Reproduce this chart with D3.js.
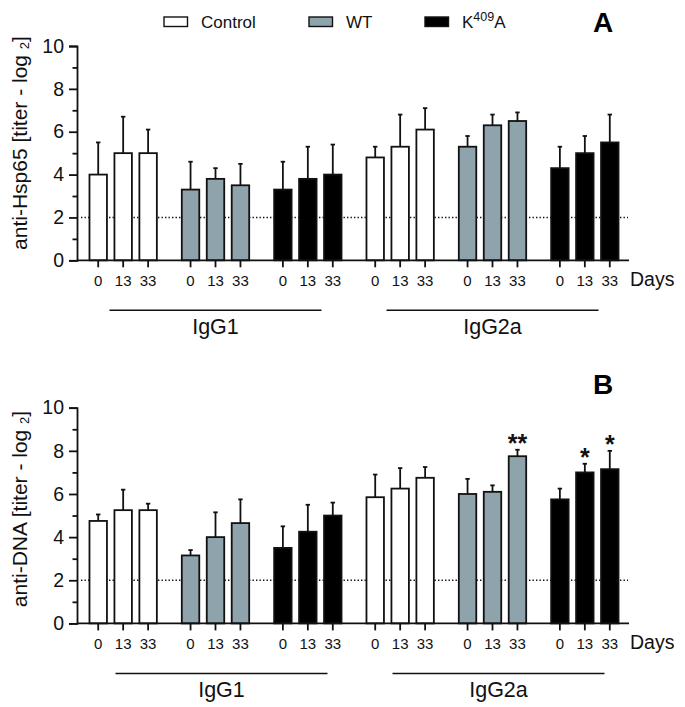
<!DOCTYPE html>
<html>
<head>
<meta charset="utf-8">
<script src="https://cdn.jsdelivr.net/npm/d3@7"></script>
<style>
  html, body { margin: 0; padding: 0; background: #fff; }
  svg { display: block; font-family: Arial, "Liberation Sans", sans-serif; }
</style>
</head>
<body>
<svg id="chart" width="685" height="707"></svg>
<script>
// ---- data ----
const treatments = ["Control", "WT", "K409A"];
const isotypes = ["IgG1", "IgG2a"];
const days = ["0", "13", "33"];
const yTicks = [0, 2, 4, 6, 8, 10];
const yMinorTicks = [1, 3, 5, 7, 9];
const cutoff = 2;

// rows: IgG1 Control, IgG1 WT, IgG1 K409A, IgG2a Control, IgG2a WT, IgG2a K409A
const hspMean = [[4.0, 5.0, 5.0], [3.3, 3.8, 3.5], [3.3, 3.8, 4.0],
                 [4.8, 5.3, 6.1], [5.3, 6.3, 6.5], [4.3, 5.0, 5.5]];
const hspErr  = [[1.5, 1.7, 1.1], [1.3, 0.5, 1.0], [1.3, 1.5, 1.4],
                 [0.5, 1.5, 1.0], [0.5, 0.5, 0.4], [1.0, 0.8, 1.3]];
const dnaMean = [[4.75, 5.25, 5.25], [3.15, 4.0, 4.65], [3.5, 4.25, 5.0],
                 [5.85, 6.25, 6.75], [6.0, 6.1, 7.75], [5.75, 7.0, 7.15]];
const dnaErr  = [[0.3, 0.95, 0.3], [0.25, 1.15, 1.1], [1.0, 1.25, 0.6],
                 [1.05, 0.95, 0.5], [0.7, 0.3, 0.3], [0.5, 0.4, 0.85]];
const dnaSig  = [["", "", ""], ["", "", ""], ["", "", ""],
                 ["", "", ""], ["", "", "**"], ["", "*", "*"]];
const hspSig  = [["", "", ""], ["", "", ""], ["", "", ""],
                 ["", "", ""], ["", "", ""], ["", "", ""]];

const colors = { "Control": "#ffffff", "WT": "#8fa3ad", "K409A": "#000000" };
const ink = "#111";
const SW = 1.8;

const svg = d3.select("#chart");

// group keys (isotype|treatment)
const groupKeys = [];
isotypes.forEach(iso => treatments.forEach(t => groupKeys.push(iso + "|" + t)));

const x0 = d3.scaleBand().domain(groupKeys).range([77, 631]).paddingInner(0).paddingOuter(0);
const x1 = d3.scaleBand().domain(days).range([0, x0.bandwidth()]).paddingInner(0.3).paddingOuter(0.5);

function panel(cfg) {
  const g = svg.append("g");
  const y = d3.scaleLinear().domain([0, 10]).range([cfg.y0, cfg.y10]);

  // y axis
  const yAx = g.append("g").attr("transform", "translate(77,0)")
    .call(d3.axisLeft(y).tickValues(yTicks).tickSize(8).tickPadding(5).tickFormat(d3.format("d")));
  yAx.selectAll("text").attr("font-size", 19.5).attr("fill", ink).attr("font-family", "Arial, Liberation Sans, sans-serif");
  yAx.select(".domain").attr("stroke", ink).attr("stroke-width", SW);
  yAx.selectAll(".tick line").attr("stroke", ink).attr("stroke-width", SW);
  const yMin = g.append("g").attr("transform", "translate(77,0)")
    .call(d3.axisLeft(y).tickValues(yMinorTicks).tickSize(4.5).tickFormat(""));
  yMin.select(".domain").remove();
  yMin.selectAll(".tick line").attr("stroke", ink).attr("stroke-width", SW);

  // y title
  const t = g.append("text")
    .attr("transform", `translate(27,${cfg.titleY}) rotate(-90)`)
    .attr("text-anchor", "middle").attr("font-size", 21).attr("fill", ink);
  t.append("tspan").text(cfg.title + " [titer - log ");
  t.append("tspan").attr("font-size", 13).attr("dy", 2).text("2");
  t.append("tspan").attr("dy", -2).text("]");

  // dotted cutoff
  g.append("line").attr("x1", 81).attr("x2", 628).attr("y1", y(cutoff)).attr("y2", y(cutoff))
    .attr("stroke", ink).attr("stroke-width", 1.4).attr("stroke-dasharray", "1.4,2.1");

  // bars
  groupKeys.forEach((key, gi) => {
    const tr = key.split("|")[1];
    const gg = g.append("g").attr("transform", `translate(${x0(key)},0)`);
    const rows = days.map((d, di) => ({ d, v: cfg.mean[gi][di], e: cfg.err[gi][di], s: cfg.sig[gi][di] }));
    // error bars
    gg.selectAll("line.err").data(rows).join("line").attr("class", "err")
      .attr("x1", r => x1(r.d) + x1.bandwidth() / 2).attr("x2", r => x1(r.d) + x1.bandwidth() / 2)
      .attr("y1", r => y(r.v)).attr("y2", r => y(r.v + r.e))
      .attr("stroke", ink).attr("stroke-width", SW);
    gg.selectAll("line.cap").data(rows).join("line").attr("class", "cap")
      .attr("x1", r => x1(r.d) + x1.bandwidth() / 2 - 2.2).attr("x2", r => x1(r.d) + x1.bandwidth() / 2 + 2.2)
      .attr("y1", r => y(r.v + r.e)).attr("y2", r => y(r.v + r.e))
      .attr("stroke", ink).attr("stroke-width", SW);
    gg.selectAll("rect").data(rows).join("rect")
      .attr("x", r => x1(r.d)).attr("width", x1.bandwidth())
      .attr("y", r => y(r.v)).attr("height", r => y(0) - y(r.v))
      .attr("fill", colors[tr]).attr("stroke", ink).attr("stroke-width", SW);
    gg.selectAll("text.sig").data(rows.filter(r => r.s)).join("text").attr("class", "sig")
      .attr("x", r => x1(r.d) + x1.bandwidth() / 2).attr("y", r => y(r.v + r.e) + 2)
      .attr("text-anchor", "middle").attr("font-size", 25).attr("font-weight", "bold")
      .attr("fill", ink).text(r => r.s);
    // x axis ticks per group
    const xa = gg.append("g").attr("transform", `translate(0,${y(0)})`)
      .call(d3.axisBottom(x1).tickSize(7).tickPadding(8));
    xa.select(".domain").remove();
    xa.selectAll(".tick line").attr("stroke", ink).attr("stroke-width", SW);
    xa.selectAll("text").attr("font-size", 15).attr("fill", ink).attr("font-family", "Arial, Liberation Sans, sans-serif");
  });

  // x axis baseline
  g.append("line").attr("x1", 77).attr("x2", 629).attr("y1", y(0)).attr("y2", y(0))
    .attr("stroke", ink).attr("stroke-width", SW);

  g.append("text").attr("x", 630).attr("y", y(0) + 26).attr("font-size", 19.5).attr("fill", ink).text("Days");

  // isotype brackets
  isotypes.forEach(iso => {
    const mid = x0(iso + "|WT") + x0.bandwidth() / 2;
    g.append("line").attr("x1", mid - 106 + cfg.brShift).attr("x2", mid + 106 + cfg.brShift)
      .attr("y1", y(0) + 50).attr("y2", y(0) + 50).attr("stroke", ink).attr("stroke-width", 1.5);
    g.append("text").attr("x", mid + cfg.brShift).attr("y", y(0) + 74).attr("text-anchor", "middle")
      .attr("font-size", 21.5).attr("fill", ink).text(iso);
  });

  // panel letter
  g.append("text").attr("x", 603).attr("y", cfg.y10 - 14).attr("text-anchor", "middle")
    .attr("font-size", 28).attr("font-weight", "bold").attr("fill", "#000").text(cfg.letter);
}

panel({ y0: 260.3, y10: 46, mean: hspMean, err: hspErr, sig: hspSig, title: "anti-Hsp65", titleY: 143, letter: "A", brShift: 0 });
panel({ y0: 623.4, y10: 407.7, mean: dnaMean, err: dnaErr, sig: dnaSig, title: "anti-DNA", titleY: 509, letter: "B", brShift: 6 });

// legend
const legX = [164, 309, 425];
const legend = svg.append("g");
treatments.forEach((tr, i) => {
  legend.append("rect").attr("x", legX[i]).attr("y", 17).attr("width", 23.5).attr("height", 9.5)
    .attr("fill", colors[tr]).attr("stroke", ink).attr("stroke-width", 1.4);
  const tx = legend.append("text").attr("x", legX[i] + 37).attr("y", 27.5).attr("font-size", 17).attr("fill", ink);
  if (tr === "K409A") {
    tx.append("tspan").text("K");
    tx.append("tspan").attr("font-size", 12.5).attr("dy", -7).text("409");
    tx.append("tspan").attr("dy", 7).text("A");
  } else {
    tx.text(tr);
  }
});
</script>
</body>
</html>
